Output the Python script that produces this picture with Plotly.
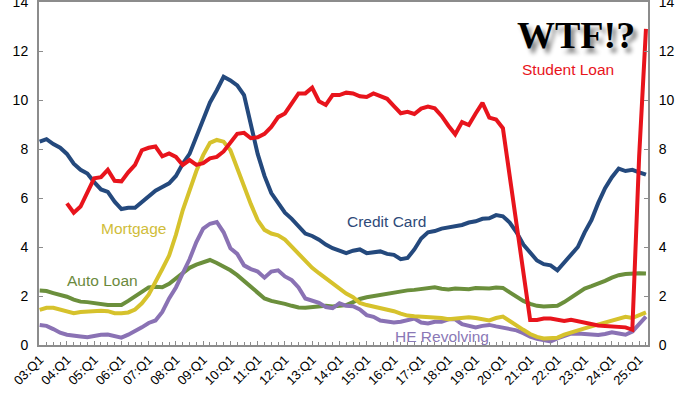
import plotly.graph_objects as go

# Quarter categories 2003:Q1 .. 2025:Q2
QUARTERS = [f"{y:02d}:Q{q}" for y in range(3, 26) for q in range(1, 5)][:90]
TICK_LABELS = [f"{y:02d}:Q1" for y in range(3, 26)]

CREDIT_CARD = [8.3, 8.4, 8.2, 8.05, 7.8, 7.4, 7.15, 7.0, 6.65, 6.35,
               6.25, 5.85, 5.55, 5.6, 5.6, 5.85, 6.1, 6.3, 6.45, 6.6,
               6.9, 7.4, 7.8, 8.5, 9.1, 9.9, 10.4, 10.95, 10.8, 10.6,
               10.2, 9.0, 7.8, 6.9, 6.2, 5.8, 5.4, 5.15, 4.85, 4.55,
               4.45, 4.3, 4.1, 3.95, 3.85, 3.75, 3.85, 3.9, 3.75, 3.8,
               3.82, 3.72, 3.68, 3.5, 3.55, 3.9, 4.35, 4.6, 4.65, 4.75,
               4.8, 4.83, 4.9, 5.0, 5.05, 5.15, 5.17, 5.3, 5.25, 5.0,
               4.6, 4.1, 3.75, 3.45, 3.3, 3.25, 3.05, 3.35, 3.7, 4.0,
               4.6, 5.1, 5.8, 6.4, 6.85, 7.2, 7.1, 7.15, 7.05, 6.95]

STUDENT_LOAN = [None, None, None, None, 5.78, 5.4, 5.65, 6.2, 6.8, 6.85,
                7.15, 6.7, 6.68, 7.05, 7.35, 7.95, 8.05, 8.1, 7.7, 7.82,
                7.68, 7.35, 7.55, 7.35, 7.42, 7.62, 7.68, 7.9, 8.25, 8.62,
                8.66, 8.44, 8.48, 8.62, 8.9, 9.3, 9.45, 9.85, 10.27, 10.27,
                10.5, 9.95, 9.8, 10.2, 10.2, 10.3, 10.27, 10.15, 10.12, 10.27,
                10.15, 10.05, 9.75, 9.46, 9.52, 9.43, 9.65, 9.73, 9.66, 9.35,
                8.95, 8.6, 9.1, 8.98, 9.45, 9.88, 9.28, 9.2, 8.85, None,
                None, None, 1.02, 1.02, 1.08, 1.08, 1.05, 0.98, 1.03, 0.97,
                0.9, 0.85, 0.8, 0.78, 0.76, 0.75, 0.72, 0.62, 7.7, 12.9]

MORTGAGE = [1.43, 1.52, 1.52, 1.45, 1.35, 1.3, 1.35, 1.38, 1.4, 1.4,
            1.38, 1.3, 1.3, 1.33, 1.45, 1.7, 2.05, 2.55, 3.1, 3.65,
            4.5, 5.5, 6.3, 7.1, 7.75, 8.25, 8.37, 8.3, 7.95, 7.2,
            6.5, 5.75, 5.1, 4.7, 4.55, 4.48, 4.3, 4.0, 3.7, 3.4,
            3.15, 2.93, 2.72, 2.5, 2.3, 2.1, 1.95, 1.72, 1.63, 1.57,
            1.54, 1.48, 1.38, 1.28, 1.2, 1.17, 1.16, 1.16, 1.15, 1.1,
            1.05, 1.08, 1.12, 1.13, 1.1, 1.05, 1.0, 1.1, 1.16, 0.98,
            0.82, 0.62, 0.45, 0.33, 0.27, 0.27, 0.3, 0.42, 0.52, 0.6,
            0.68, 0.76, 0.84, 0.92, 0.98, 1.08, 1.15, 1.1, 1.2, 1.33]

AUTO_LOAN = [2.22, 2.2, 2.12, 2.05, 1.97, 1.85, 1.77, 1.75, 1.7, 1.66,
             1.63, 1.63, 1.63, 1.8, 2.0, 2.2, 2.35, 2.38, 2.36, 2.5,
             2.7, 2.95, 3.15, 3.28, 3.36, 3.47, 3.35, 3.22, 3.05, 2.85,
             2.6, 2.35, 2.1, 1.9, 1.8, 1.75, 1.68, 1.6, 1.53, 1.52,
             1.56, 1.6, 1.6, 1.57, 1.6, 1.63, 1.75, 1.88, 1.95, 2.0,
             2.03, 2.1, 2.15, 2.2, 2.23, 2.25, 2.3, 2.33, 2.36, 2.3,
             2.27, 2.31, 2.3, 2.28, 2.33, 2.32, 2.31, 2.35, 2.33, 2.15,
             1.95, 1.8, 1.68, 1.6, 1.57, 1.57, 1.6, 1.75, 1.95, 2.15,
             2.3, 2.4, 2.5, 2.62, 2.75, 2.85, 2.9, 2.93, 2.93, 2.92]

HE_REVOLVING = [0.82, 0.78, 0.65, 0.5, 0.42, 0.37, 0.35, 0.32, 0.38, 0.42,
                0.43, 0.36, 0.3, 0.42, 0.55, 0.72, 0.9, 1.0, 1.35, 1.9,
                2.35, 2.95, 3.5, 4.2, 4.75, 4.95, 5.02, 4.6, 3.95, 3.72,
                3.25, 3.1, 3.0, 2.75, 3.0, 3.05, 2.8, 2.65, 2.35, 1.9,
                1.8, 1.72, 1.55, 1.5, 1.7, 1.6, 1.58, 1.45, 1.22, 1.15,
                1.0, 0.95, 0.92, 0.95, 1.0, 1.08, 0.92, 0.88, 0.95, 0.95,
                1.05, 1.05, 0.85, 0.78, 0.72, 0.78, 0.82, 0.76, 0.7, 0.68,
                0.6, 0.48, 0.34, 0.25, 0.18, 0.15, 0.27, 0.38, 0.46, 0.47,
                0.46, 0.44, 0.41, 0.45, 0.52, 0.47, 0.42, 0.55, 0.85, 1.16]

Y_TICKS = [0, 2, 4, 6, 8, 10, 12, 14]

C_CARD = "#24497d"
C_STUDENT = "#e8141c"
C_MORT = "#d6c22c"
C_AUTO = "#6b8f3c"
C_HE = "#8a72b4"

x_idx = list(range(len(QUARTERS)))
tickvals = [QUARTERS.index(t) for t in TICK_LABELS]

fig = go.Figure()
series = [
    ("Auto Loan", AUTO_LOAN, C_AUTO),
    ("HE Revolving", HE_REVOLVING, C_HE),
    ("Mortgage", MORTGAGE, C_MORT),
    ("Credit Card", CREDIT_CARD, C_CARD),
    ("Student Loan", STUDENT_LOAN, C_STUDENT),
]
for name, vals, col in series:
    fig.add_trace(go.Scatter(x=x_idx, y=vals, mode="lines", name=name,
                             line=dict(color=col, width=4),
                             connectgaps=True, showlegend=False,
                             hoverinfo="skip"))

# invisible trace for right axis
fig.add_trace(go.Scatter(x=[0], y=[0], yaxis="y2", mode="markers",
                         marker=dict(opacity=0), showlegend=False,
                         hoverinfo="skip"))

FONT = "Liberation Sans, Arial, sans-serif"
axis_line = "#8c8c8c"

fig.update_layout(
    width=700, height=394,
    margin=dict(l=39, r=52, t=2, b=49),
    paper_bgcolor="white", plot_bgcolor="white",
    font=dict(family=FONT, color="black"),
    xaxis=dict(range=[-0.1, 89.3], tickvals=tickvals, ticktext=TICK_LABELS,
               tickangle=-45, tickfont=dict(size=13), showgrid=False,
               zeroline=False, showline=True, linecolor=axis_line, linewidth=2,
               mirror=True, ticks="inside", ticklen=4, tickcolor=axis_line,
               automargin=False, ticklabeloverflow="allow",
               minor=dict(dtick=1, tick0=0, ticks="inside", ticklen=3,
                          tickcolor=axis_line)),
    yaxis=dict(range=[0, 14], tickvals=Y_TICKS, showgrid=False, zeroline=False,
               showline=True, linecolor=axis_line, linewidth=2,
               ticks="inside", ticklen=4, tickcolor=axis_line,
               tickfont=dict(size=14), ticklabelstandoff=6, automargin=False,
               ticklabeloverflow="allow"),
    yaxis2=dict(range=[0, 14], tickvals=Y_TICKS, overlaying="y", side="right",
                showgrid=False, zeroline=False, showline=True,
                linecolor=axis_line, linewidth=2, ticks="inside", ticklen=4,
                tickcolor=axis_line, tickfont=dict(size=14),
                ticklabelstandoff=6, automargin=False,
                ticklabeloverflow="allow"),
)

ann = [
    ("Student Loan", 568, 69, C_STUDENT, 15.5),
    ("Credit Card", 386, 221, "#2e4a78", 15.5),
    ("Mortgage", 133, 228, "#d0bd3a", 15.5),
    ("Auto Loan", 102, 280, "#6b8a3d", 15.5),
    ("HE Revolving", 442, 336, "#8a78b6", 15.5),
]
for txt, px, py, col, sz in ann:
    fig.add_annotation(text=txt, xref="paper", yref="paper",
                       x=(px - 39) / 609, y=(345 - py) / 343,
                       xanchor="center", yanchor="middle",
                       showarrow=False, font=dict(size=sz, color=col, family=FONT))

fig.add_annotation(text="<b>WTF!?</b>", xref="paper", yref="paper",
                   x=(576 - 39) / 609, y=(345 - 35) / 343, showarrow=False,
                   xanchor="center", yanchor="middle",
                   font=dict(size=38, color="black",
                             family="Liberation Serif, Times New Roman, serif",
                             shadow="4px 5px 4px #8a8a8a"))

fig.write_html("out.html",
               config={"displayModeBar": False},
               post_script="document.body.style.margin='0';"
                           "document.body.style.padding='0';")
